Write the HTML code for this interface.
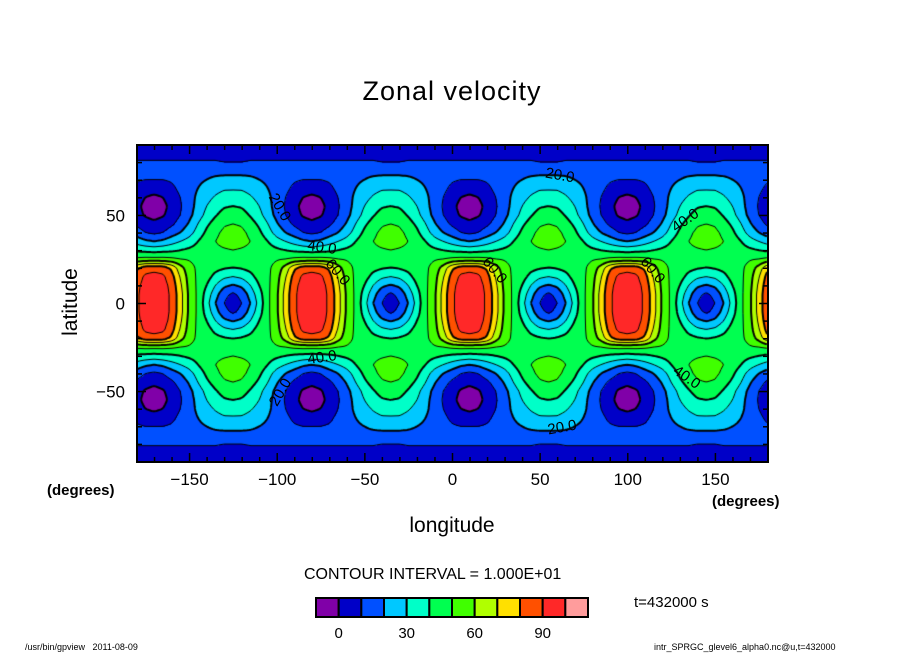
<!DOCTYPE html>
<html><head><meta charset="utf-8">
<style>
body{margin:0;background:#fff;width:904px;height:654px;overflow:hidden;position:relative;font-family:"Liberation Sans",sans-serif;}
.t{position:absolute;white-space:nowrap;color:#000;}
canvas{position:absolute;left:137px;top:145px;}
svg{position:absolute;left:0;top:0;}
</style></head>
<body>
<div class="t" style="left:0;width:904px;text-align:center;top:76px;font-size:27px;letter-spacing:1px;">Zonal velocity</div>
<canvas id="cv" width="631" height="317"></canvas>
<svg id="ax" width="904" height="654"></svg>
<div class="t" style="left:36px;top:290px;font-size:21px;transform:rotate(-90deg);transform-origin:center;width:70px;text-align:center;">latitude</div>
<div class="t" style="left:352px;width:200px;text-align:center;top:514px;font-size:21px;">longitude</div>
<div class="t" style="left:47px;top:482px;font-size:15px;font-weight:bold;">(degrees)</div>
<div class="t" style="left:712px;top:493px;font-size:15px;font-weight:bold;">(degrees)</div>
<div class="t" style="left:304px;top:566px;font-size:16px;">CONTOUR INTERVAL = 1.000E+01</div>
<div class="t" style="left:634px;top:594px;font-size:15px;">t=432000 s</div>
<div class="t" style="left:25px;top:642px;font-size:9px;">/usr/bin/gpview &nbsp; 2011-08-09</div>
<div class="t" style="left:654px;top:642px;font-size:9px;">intr_SPRGC_glevel6_alpha0.nc@u,t=432000</div>
<script>
// half-period lon offsets from peak (deg), latitudes (abs, deg)
const dOffsets=[0,5,10,15,20,25,30,35,40,45];
const latRows=[0,5,10,15,20,25,30,35,40,45,50,55,60,65,70,75,80,85,90];
const uValues=[
[97,95,88,74,58,48,34,20,10,4],
[97,95,88,74,58,48,36,24,13,8],
[96,94,87,72,57,48,40,30,22,19],
[94,92,84,69,56,48,44,37,32,30],
[86,85,78,64,54,48,46,43,41,40],
[53,53,52,50,49,47,46,46,45,45],
[36,37,38,40,42,44,46,48,49,50],
[20,22,26,30,34,40,46,50,53,54],
[8,10,15,20,26,34,42,48,52,53],
[2,4,8,14,21,30,38,44,49,50],
[-3,-1,4,10,17,25,33,39,44,46],
[-5,-3,3,9,16,23,30,35,39,40],
[-2,0,5,10,16,22,27,31,34,35],
[4,5,8,12,16,20,24,27,29,29],
[10,10,11,13,15,18,20,22,23,23],
[14,14,14,14,15,16,17,17,17,17],
[11,11,11,11,11,11,11,11,10,10],
[6,6,6,6,6,6,6,6,5,5],
[2,2,2,2,2,2,2,2,2,2]];
const peakLon=-170, period=90;
const levels=[0,10,20,30,40,50,60,70,80,90,100];
const colors=["#8000a8","#0000c8","#0050ff","#00c8ff","#00ffc8","#00ff50","#40ff00","#b0ff00","#ffe000","#ff5000","#ff2828","#ff9c9c"];
const lonTicks=[-150,-100,-50,0,50,100,150];
const latTicks=[50,0,-50];
const cbLabels=[0,30,60,90];

const X0=137,Y0=145,W=631,H=317;
const xs=lon=>X0+(lon+180)/360*W, ys=lat=>Y0+(90-lat)/180*H;
function field(lon,lat){
  let d=((lon-peakLon)%period+period)%period; if(d>period/2)d=period-d;
  const a=Math.min(Math.abs(lat),90);
  const step=dOffsets[1]-dOffsets[0], ls=latRows[1]-latRows[0];
  let i=Math.min(Math.floor(d/step),dOffsets.length-2), j=Math.min(Math.floor(a/ls),latRows.length-2);
  const fx=(d-dOffsets[i])/step, fy=(a-latRows[j])/ls;
  const v00=uValues[j][i],v01=uValues[j][i+1],v10=uValues[j+1][i],v11=uValues[j+1][i+1];
  return (v00*(1-fx)+v01*fx)*(1-fy)+(v10*(1-fx)+v11*fx)*fy;
}
function hex(c){return [parseInt(c.slice(1,3),16),parseInt(c.slice(3,5),16),parseInt(c.slice(5,7),16)];}
const rgb=colors.map(hex);
const cv=document.getElementById('cv'),ctx=cv.getContext('2d');
const img=ctx.createImageData(W,H);
const grid=[];
for(let y=0;y<=H;y++){grid[y]=[];for(let x=0;x<=W;x++){grid[y][x]=field(-180+(x+0.5)/W*360,90-(y+0.5)/H*180);}}
for(let y=0;y<H;y++)for(let x=0;x<W;x++){
  const v=grid[y][x];let k=0;while(k<levels.length&&v>=levels[k])k++;
  const c=rgb[k],p=(y*W+x)*4;img.data[p]=c[0];img.data[p+1]=c[1];img.data[p+2]=c[2];img.data[p+3]=255;}
ctx.putImageData(img,0,0);
// contours via marching squares
const S=2;
ctx.strokeStyle="#000";
levels.forEach(L=>{
  ctx.lineWidth=(L%20===0)?2:1;ctx.beginPath();
  for(let y=0;y+S<=H;y+=S)for(let x=0;x+S<=W;x+=S){
    const a=grid[y][x],b=grid[y][x+S],c=grid[y+S][x+S],d=grid[y+S][x];
    const pts=[];
    const e=(v1,v2,x1,y1,x2,y2)=>{if((v1<L)!==(v2<L)){const t=(L-v1)/(v2-v1);pts.push([x1+(x2-x1)*t,y1+(y2-y1)*t]);}};
    e(a,b,x,y,x+S,y);e(b,c,x+S,y,x+S,y+S);e(d,c,x,y+S,x+S,y+S);e(a,d,x,y,x,y+S);
    for(let k=0;k+1<pts.length;k+=2){ctx.moveTo(pts[k][0],pts[k][1]);ctx.lineTo(pts[k+1][0],pts[k+1][1]);}
  }
  ctx.stroke();
});
// axes
const svg=document.getElementById('ax'),NS="http://www.w3.org/2000/svg";
function mk(t,at,txt){const e=document.createElementNS(NS,t);for(const k in at)e.setAttribute(k,at[k]);if(txt!==undefined)e.textContent=txt;svg.appendChild(e);return e;}
const fr=mk('rect',{x:X0,y:Y0,width:W,height:H,fill:'none',stroke:'#000','stroke-width':2});


for(let lon=-180;lon<=180;lon+=10){
  const L=(lon%50===0)?9:5,x=xs(lon);
  const t1=mk('line',{x1:x,x2:x,y1:Y0,y2:Y0+L,stroke:'#000','stroke-width':1.5});
  
  
  const t2=mk('line',{x1:x,x2:x,y1:Y0+H,y2:Y0+H-L,stroke:'#000','stroke-width':1.5});
  
  
}
for(let lat=-90;lat<=90;lat+=10){
  const L=(lat%50===0)?9:5,y=ys(lat);
  const t1=mk('line',{x1:X0,x2:X0+L,y1:y,y2:y,stroke:'#000','stroke-width':1.5});
  
  
  const t2=mk('line',{x1:X0+W,x2:X0+W-L,y1:y,y2:y,stroke:'#000','stroke-width':1.5});
  
  
}
lonTicks.forEach(v=>{const t=mk('text',{x:xs(v),y:485,'text-anchor':'middle','font-size':17,'font-family':'Liberation Sans, sans-serif'},v<0?'\u2212'+(-v):String(v));
  
  });
latTicks.forEach(v=>{const t=mk('text',{x:125,y:ys(v)+6,'text-anchor':'end','font-size':17,'font-family':'Liberation Sans, sans-serif'},v<0?'\u2212'+(-v):String(v));
  
  });
// contour labels
const cl=[["20.0",560,180,10],["20.0",280,212,60],["40.0",685,225,-35],["40.0",322,252,8],["60.0",338,277,50],["60.0",495,275,50],["60.0",653,275,50],["40.0",322,362,-8],["40.0",687,382,35],["20.0",280,397,-60],["20.0",562,432,-10]];
cl.forEach(c=>{const t=mk('text',{x:c[1],y:c[2],'text-anchor':'middle','font-size':15,'font-family':'Liberation Sans, sans-serif',transform:`rotate(${c[3]} ${c[1]} ${c[2]-5})`},c[0]);
  
  });
// colorbar
const cbX=316,cbY=598,cbW=272,cbH=19,bw=cbW/colors.length;
colors.forEach((c,i)=>{const r=mk('rect',{x:cbX+i*bw,y:cbY,width:bw,height:cbH,fill:c,stroke:'#000','stroke-width':2});
  
  });
cbLabels.forEach(v=>{const i=levels.indexOf(v)+1;const t=mk('text',{x:cbX+i*bw,y:638,'text-anchor':'middle','font-size':15,'font-family':'Liberation Sans, sans-serif'},String(v));
  
  });
</script>
</body></html>
